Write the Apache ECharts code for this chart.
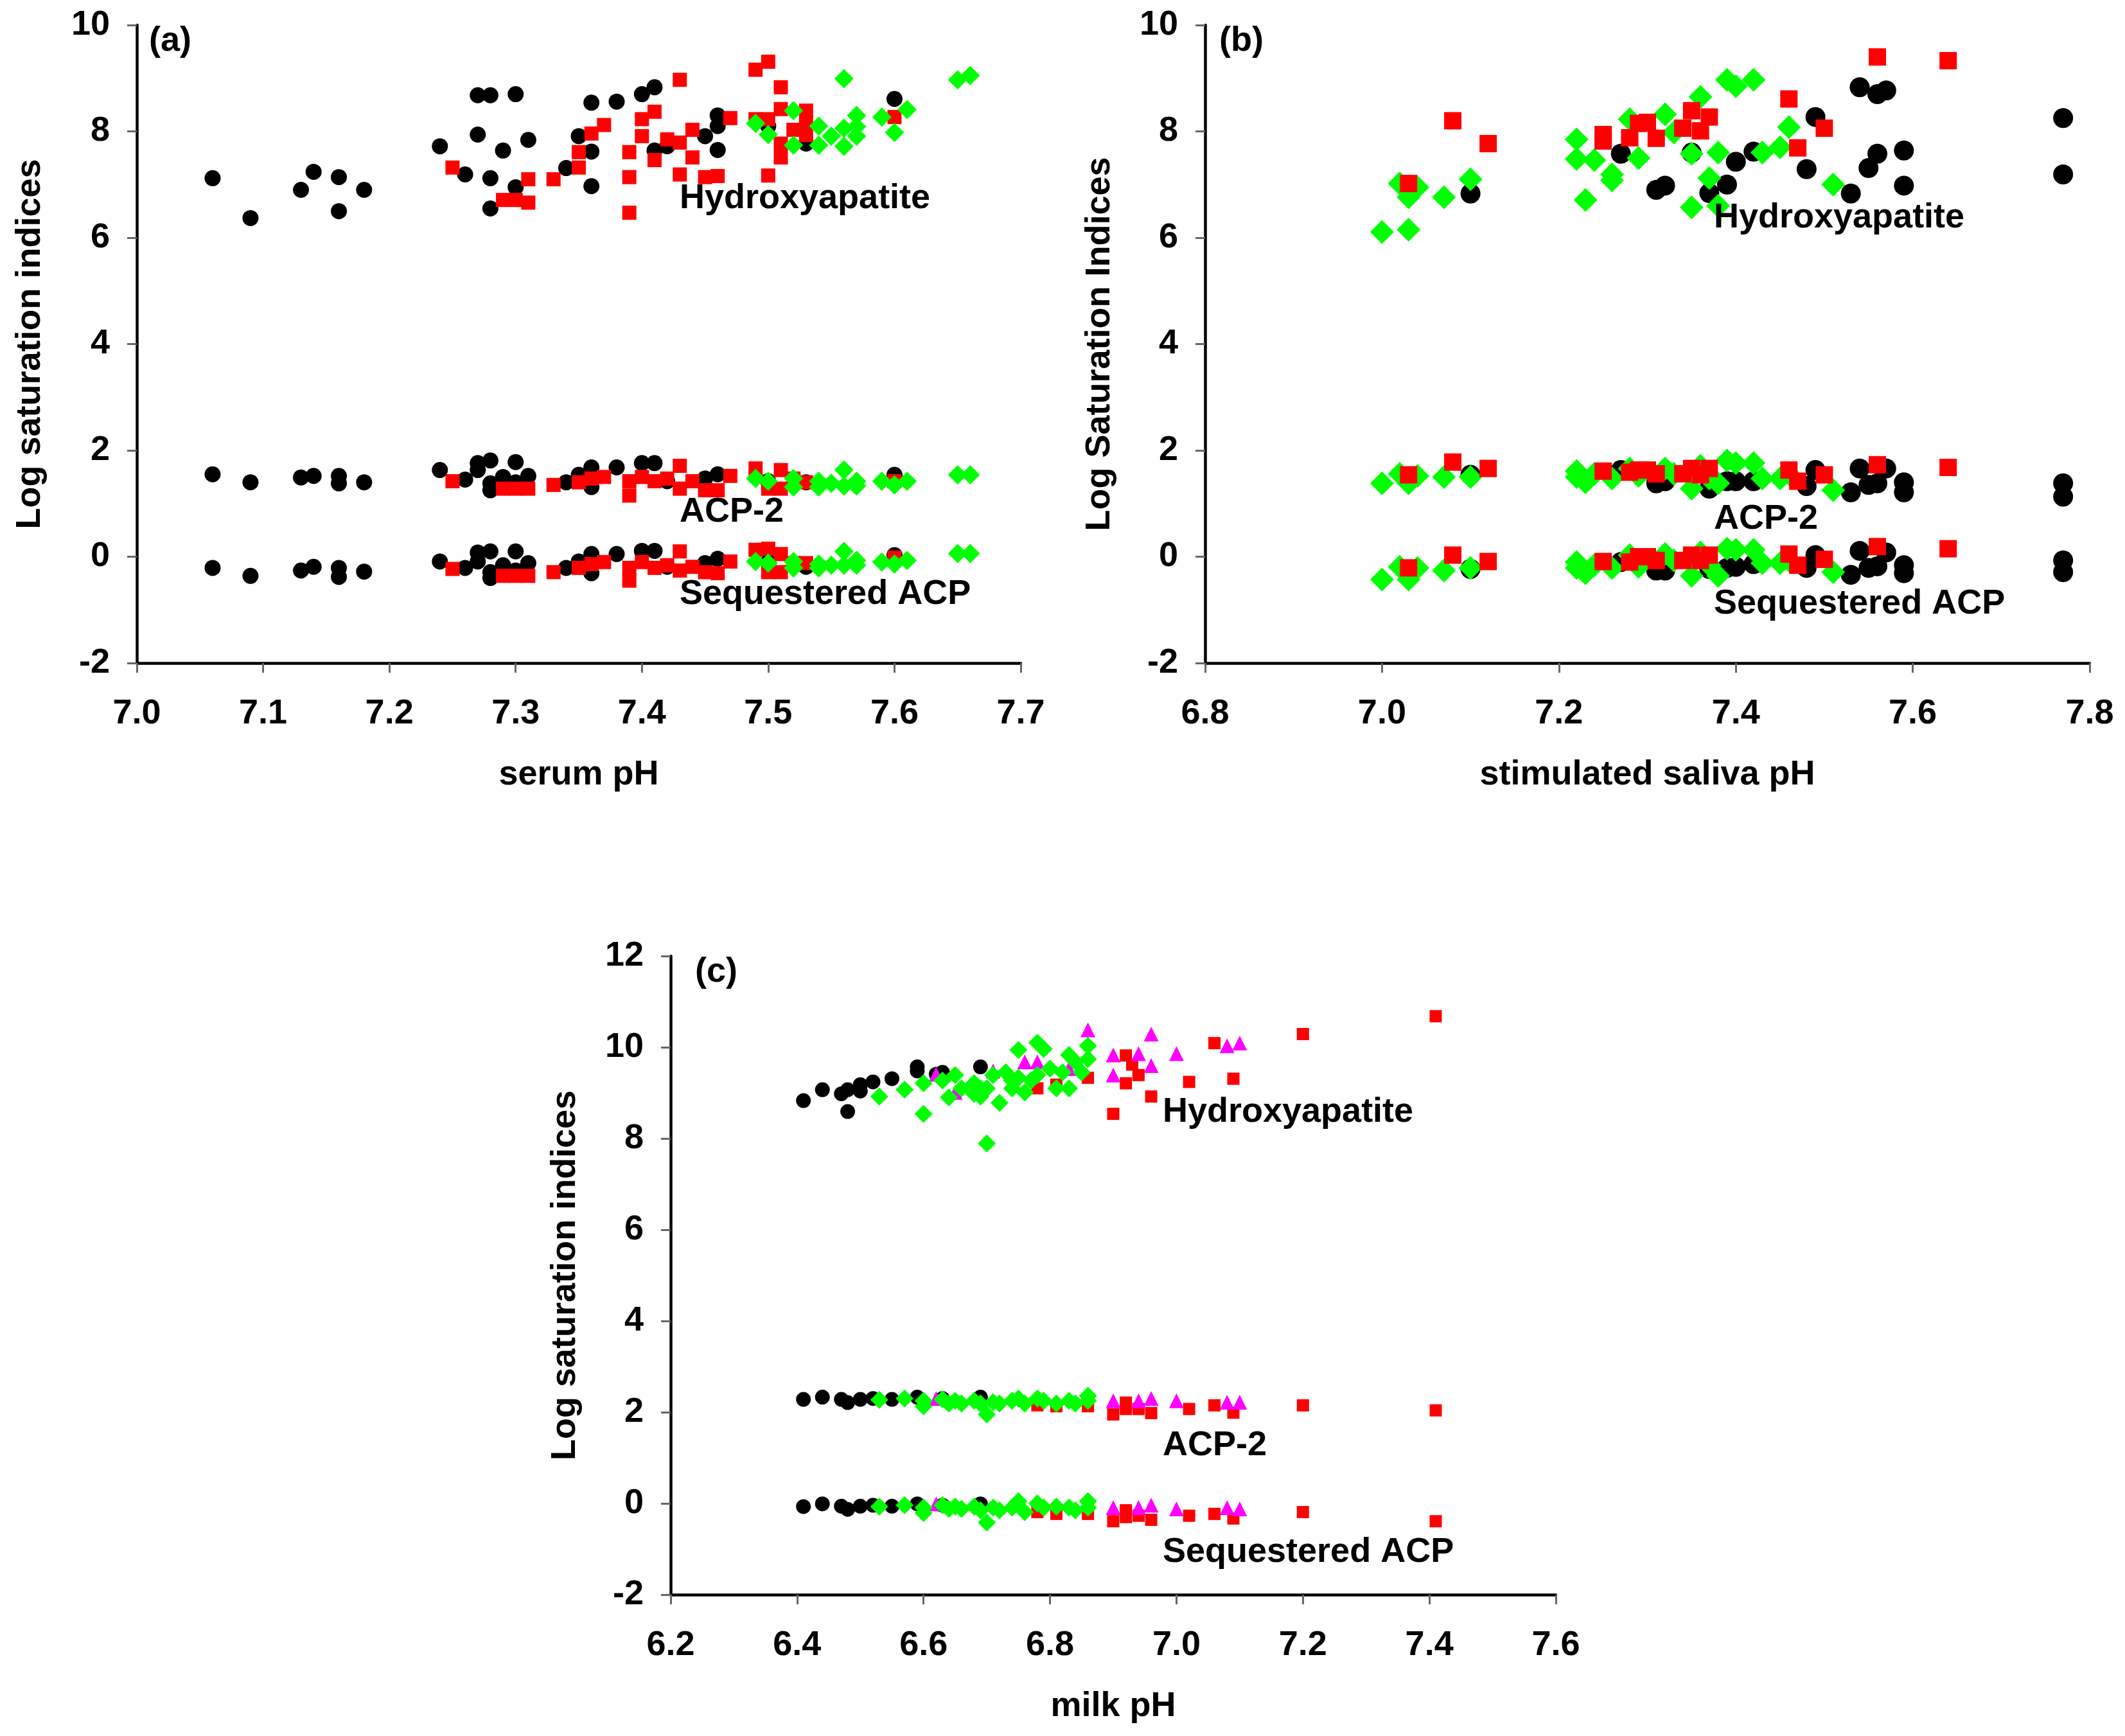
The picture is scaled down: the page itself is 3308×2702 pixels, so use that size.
<!DOCTYPE html>
<html>
<head>
<meta charset="utf-8">
<script src="https://cdn.jsdelivr.net/npm/echarts@6/dist/echarts.min.js"></script>
<style>
html,body{margin:0;padding:0;background:#fff;}
#chart{width:3308px;height:2702px;}
</style>
</head>
<body>
<div id="chart"></div>
<script>
// ---------------- Panel (a): serum ----------------
const A_BLACK_HAP = [[7.06,7.12],[7.09,6.37],[7.13,6.90],[7.14,7.24],[7.16,7.14],[7.16,6.50],[7.18,6.90],[7.24,7.72],[7.26,7.19],[7.27,8.68],[7.28,8.68],[7.27,7.94],[7.28,7.12],[7.28,6.55],[7.29,7.64],[7.30,8.70],[7.30,6.95],[7.31,7.84],[7.34,7.31],[7.35,7.91],[7.36,8.54],[7.36,7.62],[7.36,6.97],[7.38,8.56],[7.40,8.70],[7.41,8.83],[7.41,7.64],[7.42,7.72],[7.45,7.91],[7.46,8.30],[7.46,8.10],[7.46,7.65],[7.50,8.10],[7.53,7.77],[7.60,8.61]];
const A_RED_HAP = [[7.25,7.32],[7.29,6.71],[7.30,6.71],[7.31,6.66],[7.31,7.10],[7.33,7.10],[7.35,7.61],[7.35,7.32],[7.36,7.96],[7.37,8.12],[7.39,7.61],[7.39,7.14],[7.39,6.47],[7.40,8.23],[7.40,7.91],[7.41,8.37],[7.41,7.46],[7.42,7.85],[7.43,8.97],[7.43,7.79],[7.43,7.19],[7.44,8.03],[7.44,7.51],[7.45,7.14],[7.46,7.16],[7.47,8.25],[7.49,9.16],[7.49,8.23],[7.50,9.31],[7.50,8.23],[7.50,7.17],[7.51,8.83],[7.51,8.42],[7.51,7.77],[7.51,7.51],[7.52,8.03],[7.53,8.39],[7.53,8.18],[7.53,7.93],[7.60,8.27]];
const A_GREEN_HAP = [[7.49,8.15],[7.50,7.94],[7.52,8.39],[7.52,7.74],[7.54,8.10],[7.54,7.74],[7.55,7.91],[7.56,8.99],[7.56,8.06],[7.56,7.72],[7.57,8.30],[7.57,8.09],[7.57,7.91],[7.59,8.27],[7.60,7.98],[7.61,8.41],[7.65,8.97],[7.66,9.05]];
const A_BLACK_ACP2 = [[7.06,1.55],[7.09,1.40],[7.13,1.49],[7.14,1.52],[7.16,1.52],[7.16,1.38],[7.18,1.40],[7.24,1.63],[7.26,1.45],[7.27,1.76],[7.27,1.63],[7.28,1.81],[7.28,1.25],[7.28,1.38],[7.29,1.50],[7.30,1.78],[7.30,1.40],[7.31,1.52],[7.34,1.40],[7.35,1.54],[7.36,1.68],[7.36,1.31],[7.38,1.68],[7.40,1.76],[7.41,1.76],[7.42,1.42],[7.45,1.47],[7.46,1.55],[7.50,1.42],[7.53,1.40],[7.60,1.54]];
const A_RED_ACP2 = [[7.25,1.42],[7.29,1.28],[7.30,1.28],[7.31,1.28],[7.33,1.35],[7.35,1.40],[7.36,1.47],[7.37,1.50],[7.39,1.42],[7.39,1.15],[7.40,1.50],[7.41,1.42],[7.42,1.47],[7.43,1.71],[7.43,1.28],[7.44,1.42],[7.45,1.25],[7.46,1.25],[7.47,1.52],[7.49,1.66],[7.50,1.28],[7.51,1.63],[7.51,1.28],[7.52,1.47],[7.53,1.40],[7.60,1.42]];
const A_GREEN_ACP2 = [[7.49,1.47],[7.50,1.42],[7.52,1.47],[7.52,1.31],[7.54,1.42],[7.54,1.31],[7.55,1.38],[7.56,1.63],[7.56,1.33],[7.57,1.42],[7.57,1.33],[7.59,1.42],[7.60,1.35],[7.61,1.42],[7.65,1.54],[7.66,1.54]];
const A_BLACK_SEQ = [[7.06,-0.21],[7.09,-0.36],[7.13,-0.26],[7.14,-0.19],[7.16,-0.21],[7.16,-0.38],[7.18,-0.28],[7.24,-0.09],[7.26,-0.21],[7.27,0.08],[7.27,-0.09],[7.28,0.10],[7.28,-0.40],[7.28,-0.29],[7.29,-0.16],[7.30,0.10],[7.30,-0.26],[7.31,-0.12],[7.34,-0.21],[7.35,-0.09],[7.36,0.05],[7.36,-0.31],[7.38,0.05],[7.40,0.11],[7.41,0.11],[7.42,-0.19],[7.45,-0.12],[7.46,-0.04],[7.50,-0.10],[7.53,-0.19],[7.60,0.03]];
const A_RED_SEQ = [[7.25,-0.23],[7.29,-0.36],[7.30,-0.36],[7.31,-0.36],[7.33,-0.29],[7.35,-0.21],[7.36,-0.14],[7.37,-0.10],[7.39,-0.21],[7.39,-0.45],[7.40,-0.10],[7.41,-0.21],[7.42,-0.16],[7.43,0.10],[7.43,-0.26],[7.44,-0.19],[7.45,-0.29],[7.46,-0.31],[7.47,-0.09],[7.49,0.13],[7.50,0.15],[7.50,-0.29],[7.51,0.05],[7.51,-0.29],[7.52,-0.12],[7.53,-0.12],[7.60,-0.02]];
const A_GREEN_SEQ = [[7.49,-0.09],[7.50,-0.12],[7.52,-0.09],[7.52,-0.21],[7.54,-0.14],[7.54,-0.21],[7.55,-0.16],[7.56,0.10],[7.56,-0.16],[7.57,-0.07],[7.57,-0.16],[7.59,-0.10],[7.60,-0.14],[7.61,-0.07],[7.65,0.06],[7.66,0.06]];

// ---------------- Panel (b): stimulated saliva ----------------
const B_BLACK_HAP = [[7.10,6.83],[7.27,7.58],[7.31,6.90],[7.32,6.98],[7.35,7.60],[7.37,6.84],[7.39,7.00],[7.40,7.43],[7.42,7.62],[7.48,7.29],[7.49,8.27],[7.53,6.83],[7.54,8.83],[7.55,7.31],[7.56,7.58],[7.56,8.70],[7.57,8.77],[7.59,7.64],[7.59,6.98],[7.77,8.25],[7.77,7.19]];
const B_RED_HAP = [[7.03,7.02],[7.08,8.20],[7.12,7.77],[7.25,7.94],[7.25,7.82],[7.28,7.88],[7.29,8.15],[7.30,8.17],[7.31,7.87],[7.34,8.06],[7.35,8.39],[7.36,8.01],[7.37,8.27],[7.46,8.61],[7.47,7.69],[7.50,8.06],[7.56,9.40],[7.64,9.33]];
const B_GREEN_HAP = [[7.00,6.11],[7.02,7.02],[7.03,6.15],[7.03,6.76],[7.04,6.95],[7.07,6.76],[7.10,7.10],[7.22,7.85],[7.22,7.48],[7.23,6.71],[7.24,7.46],[7.26,7.19],[7.26,7.08],[7.28,8.23],[7.29,7.50],[7.32,8.32],[7.33,7.98],[7.35,7.58],[7.35,6.57],[7.36,8.65],[7.37,7.12],[7.38,7.60],[7.38,6.60],[7.39,8.97],[7.40,8.85],[7.42,8.97],[7.43,7.60],[7.45,7.70],[7.46,8.08],[7.51,7.00]];
const B_BLACK_ACP2 = [[7.10,1.54],[7.27,1.63],[7.31,1.38],[7.32,1.42],[7.37,1.28],[7.39,1.42],[7.40,1.42],[7.42,1.42],[7.48,1.33],[7.49,1.63],[7.53,1.21],[7.54,1.66],[7.55,1.35],[7.56,1.38],[7.57,1.66],[7.59,1.40],[7.59,1.21],[7.77,1.38],[7.77,1.13]];
const B_RED_ACP2 = [[7.03,1.54],[7.08,1.78],[7.12,1.66],[7.25,1.61],[7.28,1.59],[7.29,1.63],[7.30,1.63],[7.31,1.56],[7.34,1.56],[7.35,1.66],[7.36,1.54],[7.37,1.66],[7.46,1.63],[7.47,1.42],[7.50,1.54],[7.56,1.73],[7.64,1.68]];
const B_GREEN_ACP2 = [[7.00,1.38],[7.02,1.56],[7.03,1.38],[7.04,1.52],[7.07,1.50],[7.10,1.50],[7.22,1.61],[7.22,1.50],[7.23,1.40],[7.24,1.56],[7.26,1.47],[7.28,1.66],[7.29,1.52],[7.32,1.66],[7.33,1.56],[7.35,1.28],[7.36,1.71],[7.37,1.47],[7.38,1.38],[7.39,1.81],[7.40,1.76],[7.42,1.76],[7.43,1.47],[7.45,1.47],[7.46,1.56],[7.51,1.25]];
const B_BLACK_SEQ = [[7.10,-0.23],[7.27,-0.10],[7.31,-0.26],[7.32,-0.26],[7.37,-0.23],[7.39,-0.21],[7.40,-0.19],[7.42,-0.14],[7.48,-0.21],[7.49,0.03],[7.53,-0.34],[7.54,0.11],[7.55,-0.21],[7.56,-0.18],[7.57,0.08],[7.59,-0.16],[7.59,-0.31],[7.77,-0.07],[7.77,-0.29]];
const B_RED_SEQ = [[7.03,-0.21],[7.08,0.03],[7.12,-0.09],[7.25,-0.09],[7.28,-0.10],[7.29,0.00],[7.30,0.00],[7.31,-0.07],[7.34,-0.07],[7.35,0.03],[7.36,-0.07],[7.37,0.03],[7.46,0.05],[7.47,-0.16],[7.50,-0.05],[7.56,0.19],[7.64,0.15]];
const B_GREEN_SEQ = [[7.00,-0.43],[7.02,-0.19],[7.03,-0.43],[7.04,-0.21],[7.07,-0.26],[7.10,-0.21],[7.22,-0.10],[7.22,-0.21],[7.23,-0.31],[7.24,-0.16],[7.26,-0.21],[7.28,0.03],[7.29,-0.19],[7.32,0.05],[7.33,-0.07],[7.35,-0.36],[7.36,0.08],[7.37,-0.16],[7.38,-0.36],[7.39,0.15],[7.40,0.13],[7.42,0.13],[7.43,-0.12],[7.45,-0.12],[7.46,-0.07],[7.51,-0.29]];

// ---------------- Panel (c): milk ----------------
const C_BLACK_HAP = [[6.41,8.83],[6.44,9.07],[6.47,8.98],[6.48,8.59],[6.48,9.07],[6.50,9.18],[6.50,9.04],[6.52,9.24],[6.55,9.31],[6.59,9.57],[6.59,9.48],[6.62,9.41],[6.63,9.45],[6.69,9.57]];
const C_RED_HAP = [[6.78,9.10],[6.81,9.18],[6.86,9.33],[6.90,8.54],[6.92,9.82],[6.92,9.21],[6.93,9.62],[6.94,9.39],[6.96,8.92],[7.02,9.24],[7.06,10.09],[7.09,9.31],[7.20,10.29],[7.41,10.68]];
const C_MAGENTA_HAP = [[6.62,9.41],[6.65,9.01],[6.71,9.48],[6.76,9.68],[6.78,9.68],[6.83,9.53],[6.86,10.38],[6.90,9.83],[6.90,9.39],[6.94,9.86],[6.96,10.29],[6.96,9.60],[7.00,9.86],[7.08,10.03],[7.10,10.09]];
const C_GREEN_HAP = [[6.53,8.92],[6.57,9.07],[6.60,9.21],[6.60,8.54],[6.63,9.27],[6.64,8.90],[6.65,9.39],[6.66,9.10],[6.68,9.21],[6.68,8.98],[6.69,8.92],[6.69,9.10],[6.70,7.89],[6.70,9.10],[6.71,9.39],[6.72,8.78],[6.73,9.45],[6.74,9.27],[6.74,9.10],[6.75,9.94],[6.75,9.33],[6.76,9.01],[6.77,9.27],[6.78,10.10],[6.78,9.39],[6.79,9.96],[6.80,9.53],[6.81,9.10],[6.82,9.45],[6.83,9.83],[6.83,9.10],[6.84,9.68],[6.85,9.45],[6.86,10.03],[6.86,9.74]];
const C_BLACK_ACP2 = [[6.41,2.28],[6.44,2.33],[6.47,2.28],[6.48,2.21],[6.50,2.28],[6.52,2.30],[6.55,2.28],[6.59,2.33],[6.63,2.30],[6.69,2.33]];
const C_RED_ACP2 = [[6.78,2.15],[6.81,2.13],[6.86,2.13],[6.90,1.95],[6.92,2.21],[6.92,2.07],[6.94,2.07],[6.96,1.98],[7.02,2.07],[7.06,2.15],[7.09,1.99],[7.20,2.15],[7.41,2.04]];
const C_MAGENTA_ACP2 = [[6.62,2.30],[6.86,2.39],[6.90,2.25],[6.94,2.25],[6.96,2.30],[7.00,2.25],[7.08,2.22],[7.10,2.22]];
const C_GREEN_ACP2 = [[6.53,2.27],[6.57,2.30],[6.60,2.25],[6.60,2.13],[6.63,2.28],[6.64,2.19],[6.65,2.25],[6.66,2.19],[6.68,2.25],[6.69,2.19],[6.70,1.95],[6.71,2.22],[6.72,2.19],[6.74,2.25],[6.75,2.30],[6.76,2.19],[6.78,2.30],[6.79,2.25],[6.81,2.19],[6.83,2.25],[6.84,2.19],[6.86,2.25],[6.86,2.36]];
const C_BLACK_SEQ = [[6.41,-0.07],[6.44,-0.01],[6.47,-0.06],[6.48,-0.13],[6.50,-0.06],[6.52,-0.04],[6.55,-0.06],[6.59,-0.01],[6.63,-0.04],[6.69,-0.01]];
const C_RED_SEQ = [[6.78,-0.19],[6.81,-0.23],[6.86,-0.23],[6.90,-0.39],[6.92,-0.15],[6.92,-0.30],[6.94,-0.27],[6.96,-0.36],[7.02,-0.27],[7.06,-0.23],[7.09,-0.33],[7.20,-0.19],[7.41,-0.39]];
const C_MAGENTA_SEQ = [[6.62,-0.01],[6.86,0.05],[6.90,-0.09],[6.94,-0.09],[6.96,-0.04],[7.00,-0.12],[7.08,-0.09],[7.10,-0.12]];
const C_GREEN_SEQ = [[6.53,-0.07],[6.57,-0.04],[6.60,-0.09],[6.60,-0.21],[6.63,-0.04],[6.64,-0.12],[6.65,-0.07],[6.66,-0.12],[6.68,-0.07],[6.69,-0.15],[6.70,-0.42],[6.71,-0.09],[6.72,-0.15],[6.74,-0.09],[6.75,0.05],[6.76,-0.19],[6.78,0.00],[6.79,-0.09],[6.81,-0.07],[6.83,-0.09],[6.84,-0.15],[6.86,-0.09],[6.86,0.05]];

// ---------------- Text ----------------
const X_NAMES = ['serum pH', 'stimulated saliva pH', 'milk pH'];
const Y_NAMES = ['Log saturation indices', 'Log Saturation Indices', 'Log saturation indices'];
const PANEL_LABELS = ['(a)', '(b)', '(c)'];
const BAND_LABELS = ['Hydroxyapatite', 'ACP-2', 'Sequestered ACP'];

const FONT = '"Liberation Sans", Arial, Helvetica, sans-serif';
const FS = 54;

const chart = echarts.init(document.getElementById('chart'), null, {renderer: 'canvas', devicePixelRatio: 1});

const grids = [
  {left: 213, top: 39, width: 1376, height: 993},
  {left: 1876, top: 39, width: 1377, height: 993},
  {left: 1044, top: 1488, width: 1378, height: 994}
];
const xRanges = [[7.0, 7.7, 0.1], [6.8, 7.8, 0.2], [6.2, 7.6, 0.2]];
const yRanges = [[-2, 10, 2], [-2, 10, 2], [-2, 12, 2]];
const yNameGaps = [139, 137, 137];

const axisLine = {show: true, onZero: false, lineStyle: {color: '#000', width: 4.5}};
const axisTick = {show: true, inside: false, length: 15, lineStyle: {color: '#666', width: 3}};
const labelStyle = {color: '#000', fontSize: FS, fontWeight: 'bold', fontFamily: FONT};

const xAxis = xRanges.map((r, i) => ({
  type: 'value', gridIndex: i, min: r[0], max: r[1], interval: r[2],
  axisLine, axisTick, splitLine: {show: false},
  axisLabel: Object.assign({margin: 52, formatter: v => Number(v).toFixed(1)}, labelStyle),
  name: X_NAMES[i], nameLocation: 'middle', nameGap: 147,
  nameTextStyle: Object.assign({}, labelStyle)
}));
const yAxis = yRanges.map((r, i) => ({
  type: 'value', gridIndex: i, min: r[0], max: r[1], interval: r[2],
  axisLine, axisTick, splitLine: {show: false},
  axisLabel: Object.assign({margin: 42, formatter: v => String(Math.round(v))}, labelStyle),
  name: Y_NAMES[i], nameLocation: 'middle', nameGap: yNameGaps[i], nameRotate: 90,
  nameTextStyle: Object.assign({}, labelStyle)
}));

const COLORS = {black: '#000000', red: '#ff0000', green: '#00ff00', magenta: '#ff00ff'};
function sc(data, idx, color, symbol, size) {
  return {
    type: 'scatter', xAxisIndex: idx, yAxisIndex: idx, data: data,
    symbol: symbol, symbolSize: size,
    itemStyle: {color: COLORS[color], opacity: 1},
    emphasis: {disabled: true}, silent: true, animation: false
  };
}

const series = [
  // panel a: black, red, green
  sc(A_BLACK_HAP, 0, 'black', 'circle', 25), sc(A_BLACK_ACP2, 0, 'black', 'circle', 25), sc(A_BLACK_SEQ, 0, 'black', 'circle', 25),
  sc(A_RED_HAP, 0, 'red', 'rect', 22), sc(A_RED_ACP2, 0, 'red', 'rect', 22), sc(A_RED_SEQ, 0, 'red', 'rect', 22),
  sc(A_GREEN_HAP, 0, 'green', 'diamond', 30), sc(A_GREEN_ACP2, 0, 'green', 'diamond', 30), sc(A_GREEN_SEQ, 0, 'green', 'diamond', 30),
  // panel b: black, green, red
  sc(B_BLACK_HAP, 1, 'black', 'circle', 31), sc(B_BLACK_ACP2, 1, 'black', 'circle', 31), sc(B_BLACK_SEQ, 1, 'black', 'circle', 31),
  sc(B_GREEN_HAP, 1, 'green', 'diamond', 37), sc(B_GREEN_ACP2, 1, 'green', 'diamond', 37), sc(B_GREEN_SEQ, 1, 'green', 'diamond', 37),
  sc(B_RED_HAP, 1, 'red', 'rect', 27), sc(B_RED_ACP2, 1, 'red', 'rect', 27), sc(B_RED_SEQ, 1, 'red', 'rect', 27),
  // panel c: black, red, magenta, green
  sc(C_BLACK_HAP, 2, 'black', 'circle', 23), sc(C_BLACK_ACP2, 2, 'black', 'circle', 23), sc(C_BLACK_SEQ, 2, 'black', 'circle', 23),
  sc(C_RED_HAP, 2, 'red', 'rect', 19), sc(C_RED_ACP2, 2, 'red', 'rect', 19), sc(C_RED_SEQ, 2, 'red', 'rect', 19),
  sc(C_MAGENTA_HAP, 2, 'magenta', 'triangle', 23), sc(C_MAGENTA_ACP2, 2, 'magenta', 'triangle', 23), sc(C_MAGENTA_SEQ, 2, 'magenta', 'triangle', 23),
  sc(C_GREEN_HAP, 2, 'green', 'diamond', 28), sc(C_GREEN_ACP2, 2, 'green', 'diamond', 28), sc(C_GREEN_SEQ, 2, 'green', 'diamond', 28)
];

function txt(str, x, y) {
  return {type: 'text', left: x, top: y, z: 100, silent: true,
    style: {text: str, fill: '#000', font: 'bold ' + FS + 'px ' + FONT, textVerticalAlign: 'middle', verticalAlign: 'middle'}};
}
// left x and vertical centre (px) of annotations
const panelLabelPos = [[232, 64], [1898, 64], [1082, 1513]];
const bandLabelPos = [
  [[1058, 309], [1058, 797], [1058, 925]],
  [[2668, 339], [2668, 808], [2668, 940]],
  [[1810, 1731], [1810, 2250], [1810, 2416]]
];
const graphic = [];
PANEL_LABELS.forEach((s, i) => {
  graphic.push({type: 'text', x: panelLabelPos[i][0], y: panelLabelPos[i][1], z: 100, silent: true,
    style: {text: s, fill: '#000', font: 'bold ' + FS + 'px ' + FONT, verticalAlign: 'middle', align: 'left'}});
  BAND_LABELS.forEach((b, j) => {
    graphic.push({type: 'text', x: bandLabelPos[i][j][0], y: bandLabelPos[i][j][1], z: 100, silent: true,
      style: {text: b, fill: '#000', font: 'bold ' + FS + 'px ' + FONT, verticalAlign: 'middle', align: 'left'}});
  });
});

chart.setOption({
  animation: false,
  backgroundColor: '#ffffff',
  grid: grids,
  xAxis: xAxis,
  yAxis: yAxis,
  series: series,
  graphic: graphic
});
</script>
</body>
</html>
